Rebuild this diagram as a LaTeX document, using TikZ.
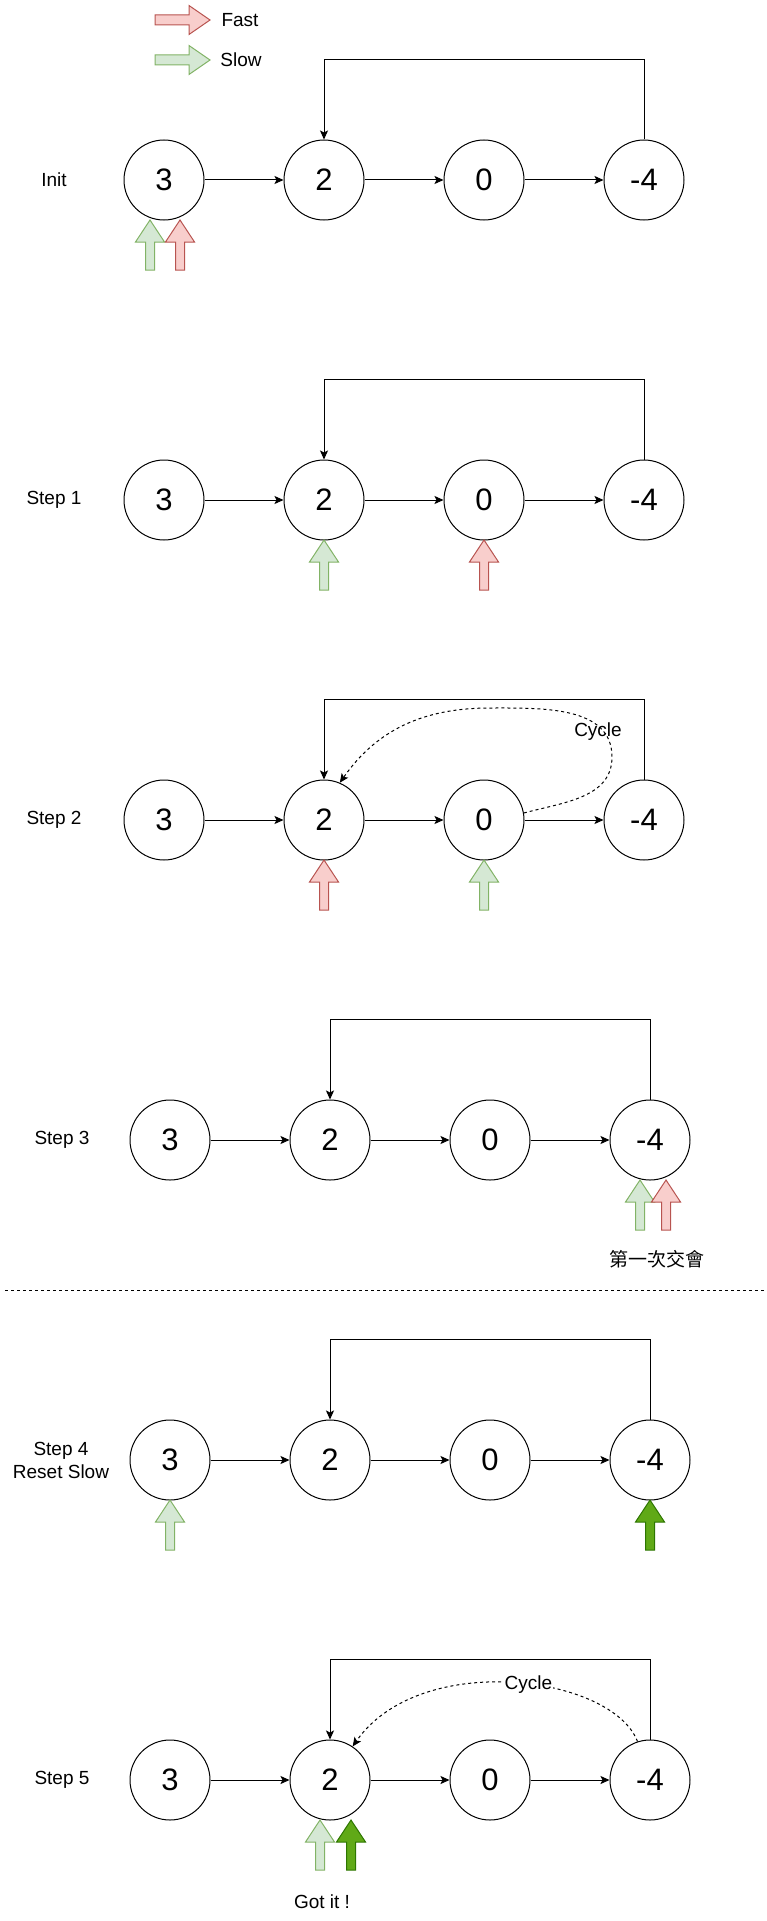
\documentclass[tikz,border=0pt]{standalone}
\usepackage{fontspec}
\setmainfont{Liberation Sans}
\newfontfamily\cjk{Noto Sans CJK TC}
\usepackage{xcolor}
\usetikzlibrary{arrows.meta}

\definecolor{fastfill}{HTML}{F8CECC}
\definecolor{fastline}{HTML}{B85450}
\definecolor{slowfill}{HTML}{D5E8D4}
\definecolor{slowline}{HTML}{82B366}
\definecolor{resetfill}{HTML}{60A917}
\definecolor{resetline}{HTML}{2D7600}

\tikzset{
  vnode/.style={circle, draw, line width=1pt, minimum size=80pt, inner sep=0pt, font=\fontsize{31}{37}\selectfont},
  lbl/.style={font=\fontsize{19}{23}\selectfont, align=center},
  link/.style={->, line width=1pt},
  cyc/.style={->, line width=1pt, dash pattern=on 3pt off 3pt},
  fastptr/.style={fill=fastfill, draw=fastline, line width=1pt},
  slowptr/.style={fill=slowfill, draw=slowline, line width=1pt},
  resetptr/.style={fill=resetfill, draw=resetline, line width=1pt}
}

% pointer pointing up: tip x, tip y, style
\newcommand{\pointerup}[3]{\draw[#3] (#1-4.5,#2-50) -- (#1-4.5,#2-22) -- (#1-14.5,#2-22) -- (#1,#2) -- (#1+14.5,#2-22) -- (#1+4.5,#2-22) -- (#1+4.5,#2-50) -- cycle;}
% legend arrow pointing right: tail x, y, style
\newcommand{\pointerright}[3]{\draw[#3] (#1,#2+5) -- (#1+34,#2+5) -- (#1+34,#2+14.5) -- (#1+55,#2) -- (#1+34,#2-14.5) -- (#1+34,#2-5) -- (#1,#2-5) -- cycle;}

\begin{document}
\begin{tikzpicture}[x=1pt, y=1pt, >={Stealth[length=9pt,width=8pt,inset=2pt]}]
  \useasboundingbox (0,0) rectangle (766,-1921);

  % legend
  \pointerright{155}{-20}{fastptr}
  \node[lbl] (fastlbl) at (240,-20) {Fast};
  \pointerright{155}{-60}{slowptr}
  \node[lbl] (slowlbl) at (241,-60) {Slow};

  % lists
  \foreach \r/\y/\dx in {1/180/0, 2/500/0, 3/820/0, 4/1140/6, 5/1460/6, 6/1780/6} {
    \node[vnode] (a\r) at (164+\dx,-\y) {3};
    \node[vnode] (b\r) at (324+\dx,-\y) {2};
    \node[vnode] (c\r) at (484+\dx,-\y) {0};
    \node[vnode] (d\r) at (644+\dx,-\y) {-4};
    \draw[link] (a\r) -- (b\r);
    \draw[link] (b\r) -- (c\r);
    \draw[link] (c\r) -- (d\r);
    \draw[link] (d\r.north) -- ++(0,80) -| (b\r.north);
  }

  % step labels
  \node[lbl] (step0) at (54,-180) {Init};
  \node[lbl] (step1) at (54,-500) {Step 1};
  \node[lbl] (step2) at (54,-820) {Step 2};
  \node[lbl] (step3) at (62,-1140) {Step 3};
  \node[lbl] (step4) at (61,-1460) {Step 4\\Reset Slow};
  \node[lbl] (step5) at (62,-1780) {Step 5};

  % pointers
  \pointerup{150}{-220}{slowptr}
  \pointerup{180}{-220}{fastptr}
  \pointerup{324}{-540}{slowptr}
  \pointerup{484}{-540}{fastptr}
  \pointerup{324}{-860}{fastptr}
  \pointerup{484}{-860}{slowptr}
  \pointerup{640}{-1180}{slowptr}
  \pointerup{666}{-1180}{fastptr}
  \pointerup{170}{-1500}{slowptr}
  \pointerup{650}{-1500}{resetptr}
  \pointerup{320}{-1820}{slowptr}
  \pointerup{351}{-1820}{resetptr}

  % cycles
  \draw[cyc] (c3.10) to[out=15,in=-90] (612,-757) to[out=90,in=0] (490,-708) to[out=180,in=55] (b3.67);
  \node[lbl] (cyc3) at (598,-732) {Cycle};
  \draw[cyc] (d6.108) .. controls (612,-1675) and (420,-1650) .. node[pos=0.45, lbl, fill=white, inner sep=1pt] (cyc6) {Cycle} (b6.56);

  \node[lbl] (meet) at (657,-1259) {\cjk 第一次交會};
  \node[lbl] (gotit) at (322,-1902) {Got it !};

  \draw[line width=1pt, dash pattern=on 3pt off 3pt] (5,-1290) -- (766,-1290);
\end{tikzpicture}
\end{document}
